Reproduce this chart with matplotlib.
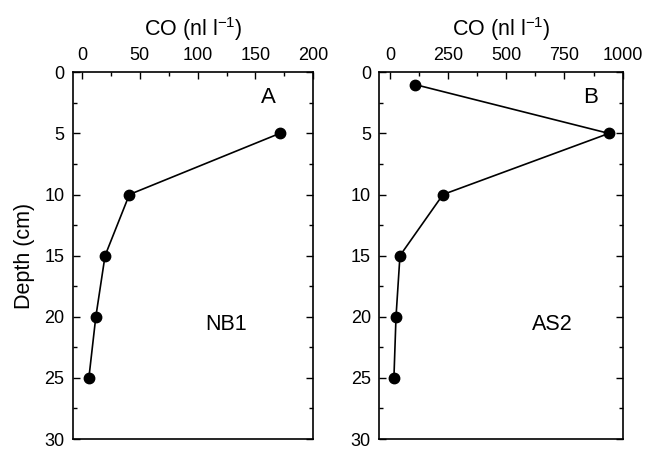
import matplotlib
matplotlib.use("Agg")
import matplotlib.pyplot as plt
from matplotlib.ticker import MultipleLocator

plt.rcParams['font.family'] = ['Liberation Sans', 'DejaVu Sans']
plt.rcParams['mathtext.fontset'] = 'custom'
plt.rcParams['mathtext.rm'] = 'Liberation Sans'
plt.rcParams['mathtext.it'] = 'Liberation Sans'
plt.rcParams['mathtext.default'] = 'regular'

depth_a = [5, 10, 15, 20, 25]
co_a = [171, 41, 20, 12, 6]
depth_b = [1, 5, 10, 15, 20, 25]
co_b = [107, 941, 228, 43, 26, 17]

panels = [
    dict(x=co_a, y=depth_a, xlim=(-8, 200), major=50, minor=25,
         letter="A", letter_pos=(161, 2.1), site="NB1", site_pos=(125, 20.6),
         rect=[0.1127, 0.0477, 0.373, 0.7955]),
    dict(x=co_b, y=depth_b, xlim=(-46, 1000), major=250, minor=125,
         letter="B", letter_pos=(864, 2.1), site="AS2", site_pos=(700, 20.6),
         rect=[0.588, 0.0477, 0.3773, 0.7955]),
]

fig = plt.figure(figsize=(6.45, 4.61), dpi=100)
fs = 13
lfs = 15.5
for p in panels:
    ax = fig.add_axes(p["rect"])
    ax.plot(p["x"], p["y"], color="black", lw=1.2, marker="o", ms=7.5,
            mfc="black", mec="black")
    ax.set_xlim(*p["xlim"])
    ax.set_ylim(30, 0)
    ax.xaxis.set_major_locator(MultipleLocator(p["major"]))
    ax.xaxis.set_minor_locator(MultipleLocator(p["minor"]))
    ax.yaxis.set_major_locator(MultipleLocator(5))
    ax.yaxis.set_minor_locator(MultipleLocator(2.5))
    ax.xaxis.tick_top()
    ax.xaxis.set_label_position("top")
    ax.tick_params(which="both", direction="in", top=True, bottom=False,
                   left=True, right=True, labeltop=True, labelbottom=False,
                   labelleft=True, labelright=False, width=1.0)
    ax.tick_params(which="major", length=5, labelsize=fs, pad=6)
    ax.tick_params(which="minor", length=3)
    ax.set_xlabel("CO (nl l$^{-1}$)", fontsize=lfs, labelpad=8)
    for s in ax.spines.values():
        s.set_linewidth(1.2)
    ax.text(*p["letter_pos"], p["letter"], fontsize=lfs + 0.5, ha="center", va="center")
    ax.text(*p["site_pos"], p["site"], fontsize=lfs, ha="center", va="center")
    if p["letter"] == "A":
        ax.set_ylabel("Depth (cm)", fontsize=lfs, labelpad=7)

fig.savefig("out.png", dpi=100)
